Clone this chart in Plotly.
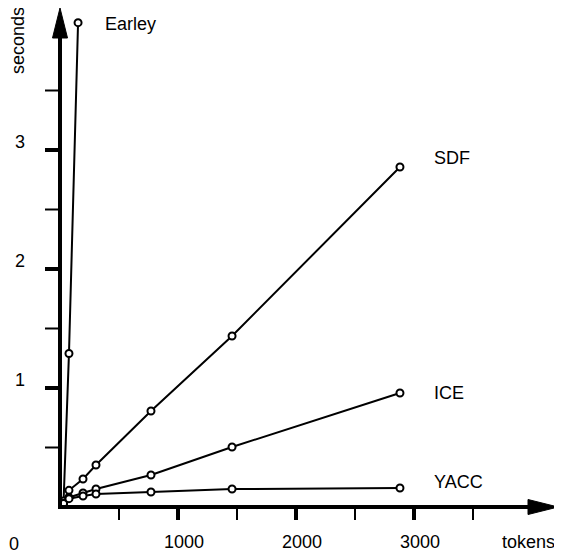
import plotly.graph_objects as go

# ---- data ----
sdf_tokens = [30, 76, 195, 305, 771, 1458, 2881]
sdf_seconds = [0.05, 0.14, 0.235, 0.353, 0.807, 1.437, 2.857]

ice_tokens = [30, 76, 195, 305, 771, 1458, 2881]
ice_seconds = [0.03, 0.08, 0.118, 0.151, 0.269, 0.504, 0.958]

yacc_tokens = [30, 76, 195, 305, 771, 1458, 2881]
yacc_seconds = [0.03, 0.07, 0.092, 0.109, 0.126, 0.151, 0.160]

earley_tokens = [30, 76, 153]
earley_seconds = [0.04, 1.29, 4.07]

series_names = ["Earley", "SDF", "ICE", "YACC"]

x_major = [1000, 2000, 3000]
x_minor = [500, 1500, 2500, 3500]
x_labels = ["1000", "2000", "3000"]
y_major = [1, 2, 3]
y_minor = [0.5, 1.5, 2.5, 3.5]
y_labels = ["1", "2", "3"]

FONT = "Liberation Sans, Arial, sans-serif"
FS = 18

fig = go.Figure()

series = [
    ("Earley", earley_tokens, earley_seconds, 25, -1),
    ("SDF", sdf_tokens, sdf_seconds, 32, 9),
    ("ICE", ice_tokens, ice_seconds, 32, 0),
    ("YACC", yacc_tokens, yacc_seconds, 32, 6),
]

for name, xs, ys, xs_shift, ys_shift in series:
    fig.add_trace(go.Scatter(
        x=xs, y=ys, mode="lines+markers", name=name,
        line=dict(color="black", width=2),
        marker=dict(symbol="circle", size=7, color="white",
                    line=dict(color="black", width=2)),
        showlegend=False, hoverinfo="skip",
    ))
    fig.add_annotation(
        x=xs[-1], y=ys[-1], text=name, showarrow=False,
        xanchor="left", yanchor="middle", xshift=xs_shift, yshift=ys_shift,
        font=dict(family=FONT, size=FS, color="black"),
    )

shapes = []
# x axis line + arrow head
shapes.append(dict(type="line", xref="x", yref="y", xsizemode="pixel", xanchor=0,
                   x0=-2, x1=472, y0=0, y1=0, line=dict(color="black", width=4)))
shapes.append(dict(type="path", xref="x", yref="y", xsizemode="pixel", ysizemode="pixel",
                   xanchor=0, yanchor=0, path="M 468,-7.5 L 498,0 L 468,7.5 Z",
                   fillcolor="black", line=dict(color="black", width=1)))
# y axis line + arrow head
shapes.append(dict(type="line", xref="x", yref="y", ysizemode="pixel", yanchor=0,
                   x0=0, x1=0, y0=-2, y1=471, line=dict(color="black", width=4)))
shapes.append(dict(type="path", xref="x", yref="y", xsizemode="pixel", ysizemode="pixel",
                   xanchor=0, yanchor=0, path="M -7.5,469 L 0,499 L 7.5,469 Z",
                   fillcolor="black", line=dict(color="black", width=1)))
# ticks
for v in x_major:
    shapes.append(dict(type="line", xref="x", yref="y", ysizemode="pixel", yanchor=0,
                       x0=v, x1=v, y0=0, y1=-13, line=dict(color="black", width=4)))
for v in x_minor:
    shapes.append(dict(type="line", xref="x", yref="y", ysizemode="pixel", yanchor=0,
                       x0=v, x1=v, y0=0, y1=-13, line=dict(color="black", width=2)))
for v in y_major:
    shapes.append(dict(type="line", xref="x", yref="y", xsizemode="pixel", xanchor=0,
                       x0=0, x1=-15, y0=v, y1=v, line=dict(color="black", width=4)))
for v in y_minor:
    shapes.append(dict(type="line", xref="x", yref="y", xsizemode="pixel", xanchor=0,
                       x0=0, x1=-15, y0=v, y1=v, line=dict(color="black", width=2)))
fig.update_layout(shapes=shapes)

# tick labels
for v, t in zip(x_major, x_labels):
    fig.add_annotation(x=v, y=0, text=t, showarrow=False, xanchor="center",
                       yanchor="middle", xshift=6, yshift=-35,
                       font=dict(family=FONT, size=FS, color="black"))
for v, t in zip(y_major, y_labels):
    fig.add_annotation(x=0, y=v, text=t, showarrow=False, xanchor="center",
                       yanchor="middle", xshift=-40, yshift=8,
                       font=dict(family=FONT, size=FS, color="black"))
fig.add_annotation(x=0, y=0, text="0", showarrow=False, xanchor="center",
                   yanchor="middle", xshift=-46, yshift=-37,
                   font=dict(family=FONT, size=FS, color="black"))
fig.add_annotation(x=0, y=0, text="tokens", showarrow=False, xanchor="center",
                   yanchor="middle", xshift=468, yshift=-35,
                   font=dict(family=FONT, size=FS, color="black"))
fig.add_annotation(x=0, y=0, text="seconds", showarrow=False, xanchor="center",
                   yanchor="middle", xshift=-42, yshift=466, textangle=-90,
                   font=dict(family=FONT, size=FS, color="black"))

# the page adds an 8 px body margin, so the figure is sized to fit inside the window
fig.update_layout(
    width=554, height=547,
    margin=dict(l=0, r=0, t=0, b=0),
    paper_bgcolor="white", plot_bgcolor="white",
    xaxis=dict(range=[-440.7, 4254.2], visible=False, fixedrange=True),
    yaxis=dict(range=[-0.4034, 4.1933], visible=False, fixedrange=True),
)

fig.write_html("out.html")
